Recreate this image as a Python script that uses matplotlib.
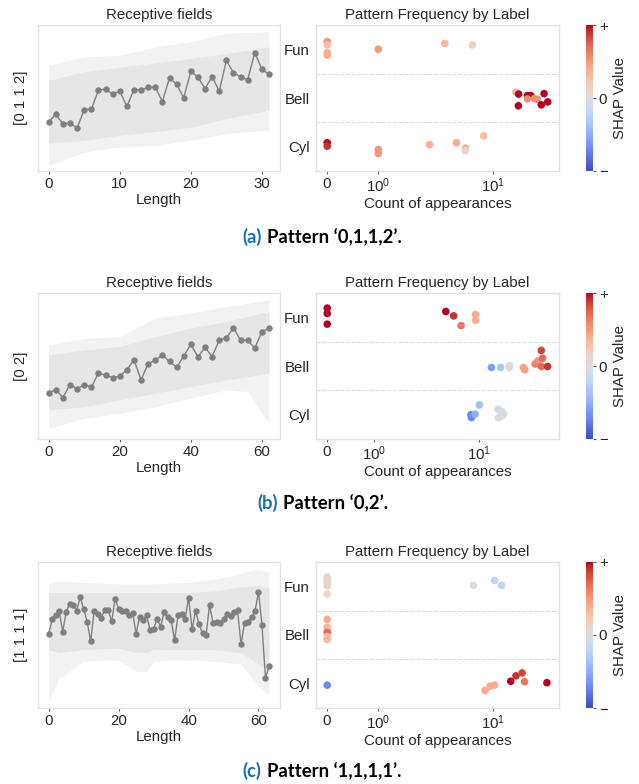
import numpy as np
import matplotlib
matplotlib.use("Agg")
import matplotlib.pyplot as plt
from matplotlib.ticker import NullLocator
from matplotlib.cm import ScalarMappable
from matplotlib.colors import Normalize

# ==================================================
# STYLE
# ==================================================

plt.rcParams["font.family"] = ["Liberation Sans", "DejaVu Sans"]
plt.rcParams["mathtext.default"] = "regular"
plt.rcParams["font.size"] = 10.8
plt.rcParams["axes.titlesize"] = 10.8
plt.rcParams["axes.edgecolor"] = "#e3e3e3"
plt.rcParams["axes.linewidth"] = 1.0
plt.rcParams["text.color"] = "#262626"
plt.rcParams["axes.labelcolor"] = "#262626"
plt.rcParams["xtick.color"] = "#595959"
plt.rcParams["ytick.color"] = "#595959"
plt.rcParams["xtick.labelcolor"] = "#262626"
plt.rcParams["ytick.labelcolor"] = "#262626"

LABELS = ["Fun", "Bell", "Cyl"]
BAND_OUTER = "#f2f2f2"
BAND_CORE = "#e6e6e6"
LINE_COLOR = "#7f7f7f"
TAG_COLOR = "#1570b5"

# ==================================================
# DATA  (a) pattern 0,1,1,2
# ==================================================

a_rf = [33.9, 38.7, 32.3, 32.7, 29.5, 42.1, 42.3, 55.4, 56.1, 52.6,
        54.7, 44.2, 55.8, 55.4, 57.4, 57.2, 47.6, 63.8, 59.3, 50.1,
        68.2, 64.3, 56.5, 64.5, 54.7, 75.7, 67.3, 64.5, 62.5, 81.0,
        69.8, 66.1]
a_rf_x = list(range(32))
a_band_x = [0, 5, 10, 15, 20, 25, 31]
a_outer_lo = [4, 13, 16.5, 17.6, 21, 25.6, 28]
a_outer_hi = [72.5, 78, 79.4, 85, 88.6, 94.3, 95.4]
a_core_lo = [19, 21, 24.5, 27, 30, 36, 41.6]
a_core_hi = [62, 68, 71, 74, 77, 80.5, 85]

a_count = [0, 0, 0, 0, 1, 3.8, 6.6,
           15.8, 16.7, 16.6, 19.9, 21.3, 19.9, 22.9, 24.3, 26.3, 27.8, 29.9,
           0, 0, 1, 1, 2.8, 4.8, 5.75, 5.75, 8.3]
a_label = ["Fun"] * 7 + ["Bell"] * 11 + ["Cyl"] * 9
a_jitter = [0.16, 0.09, -0.07, -0.12, 0.0, 0.12, 0.09,
            0.12, 0.08, -0.16, 0.05, 0.05, -0.02, -0.01, -0.03, -0.14, 0.09, -0.08,
            0.08, 0.01, -0.06, -0.14, 0.04, 0.08, -0.03, -0.08, 0.22]
a_shap = [0.5, 0.3, 0.4, 0.4, 0.5, 0.35, 0.15,
          0.35, 1.0, 1.0, 1.0, 1.0, 0.55, 0.55, 0.55, 1.0, 1.0, 1.0,
          1.0, 0.9, 0.5, 0.5, 0.38, 0.4, 0.4, 0.1, 0.3]

# ==================================================
# DATA  (b) pattern 0,2
# ==================================================

b_rf = [31.4, 33.9, 28.4, 37.3, 34.3, 37.3, 35.5, 45.1, 43.7, 42.1,
        43.0, 47.4, 54.2, 40.5, 51.7, 53.8, 57.7, 53.1, 49.0, 56.8,
        64.8, 56.3, 62.7, 56.5, 67.7, 69.1, 76.2, 67.7, 67.7, 62.2,
        73.5, 75.7]
b_rf_x = list(range(0, 64, 2))
b_band_x = [0, 10, 20, 30, 40, 50, 56, 62]
b_outer_lo = [7.3, 14, 17.6, 22, 28, 33.6, 32.5, 10.8]
b_outer_hi = [64.5, 69, 70, 82.8, 86.3, 90.8, 93, 95.4]
b_core_lo = [20, 22, 26.8, 31.4, 36, 40.5, 42.8, 45]
b_core_hi = [57.7, 61, 63.4, 70, 76, 80.5, 84, 87.4]

b_count = [0, 0, 0, 4.8, 5.7, 6.7, 9.2, 9.2,
           13.0, 15.9, 19.2, 19.2, 26.2, 27.0, 33.8, 35.8, 38.7, 39.8, 38.7, 44.4,
           10.0, 8.3, 8.4, 9.1, 15.1, 16.4, 16.4, 15.2, 16.9]
b_label = ["Fun"] * 8 + ["Bell"] * 12 + ["Cyl"] * 9
b_jitter = [0.19, 0.08, -0.14, 0.12, 0.03, -0.17, 0.06, -0.06,
            -0.03, -0.03, 0.01, -0.03, -0.03, -0.08, 0.04, 0.10, 0.32, 0.16, -0.01, -0.01,
            0.20, 0.0, -0.06, 0.01, 0.11, 0.06, -0.02, -0.06, 0.01]
b_shap = [1.0, 1.0, 1.0, 1.0, 0.9, 0.65, 0.4, 0.4,
          -0.6, -0.35, 0.0, 0.05, 0.45, 0.45, 0.6, 0.55, 0.85, 0.7, 0.7, 0.9,
          -0.4, -0.7, -0.7, -0.5, -0.1, -0.05, 0.0, -0.05, 0.0]

# ==================================================
# DATA  (c) pattern 1,1,1,1
# ==================================================

c_rf = [50.9, 61.0, 63.7, 66.7, 52.1, 66.0, 71.5, 70.5, 66.7, 76.0,
        67.8, 59.1, 45.7, 66.7, 64.6, 61.9, 66.9, 67.1, 59.4, 74.9,
        68.0, 66.7, 66.2, 63.9, 65.3, 50.9, 62.6, 60.0, 63.5, 53.2,
        54.3, 61.0, 55.7, 65.5, 62.3, 60.3, 46.3, 63.7, 64.2, 60.7,
        75.6, 53.9, 66.4, 57.3, 51.1, 49.8, 70.5, 58.2, 58.9, 58.0,
        61.0, 64.6, 62.8, 65.8, 66.9, 43.6, 58.2, 59.1, 62.3, 66.2,
        79.7, 56.6, 20.3, 28.8]
c_rf_x = list(range(64))
c_band_x = [0, 3, 10, 20, 25, 28, 30, 40, 47, 55, 60, 63]
c_outer_lo = [5, 20, 32, 33, 25, 25, 32, 33, 32, 30, 15, 9]
c_outer_hi = [85, 87, 86, 85, 85, 85, 85, 86, 88, 92, 95, 93]
c_core_lo = [40, 38, 40, 41, 38, 38, 40, 40, 40, 38, 30, 25]
c_core_hi = [79, 79, 79, 79, 79, 79, 79, 79, 80, 83, 84, 82]

c_count = [0, 0, 0, 0, 0, 6.8, 10.4, 12.0,
           0, 0, 0, 0, 0, 0,
           0, 8.6, 9.5, 10.4, 14.4, 16.0, 18.1, 19.0, 29.8]
c_label = ["Fun"] * 8 + ["Bell"] * 6 + ["Cyl"] * 9
c_jitter = [0.19, 0.12, 0.07, 0.01, -0.16, 0.02, 0.12, 0.02,
            0.32, 0.16, 0.11, 0.05, -0.03, -0.09,
            -0.03, -0.14, -0.05, -0.03, 0.05, 0.16, 0.22, 0.04, 0.02]
c_shap = [0.1, 0.12, 0.1, 0.12, 0.08, 0.0, -0.2, -0.2,
          0.4, 0.35, 0.35, 0.7, 0.3, 0.35,
          -0.7, 0.4, 0.4, 0.4, 1.0, 0.9, 0.85, 0.65, 1.0]

# ==================================================
# LAYOUT (figure fractions)
# ==================================================

W, H = 639, 784
ROW_BOTTOMS = [1 - 171 / H, 1 - 439 / H, 1 - 708 / H]
ROW_H = 146 / H
LEFT_AX = (37.7 / W, 242.3 / W)
RIGHT_AX = (316 / W, 243 / W)
CBAR_AX = (585.7 / W, 7.6 / W)

fig = plt.figure(figsize=(W / 100, H / 100), dpi=100)
cmap = plt.get_cmap("coolwarm")
norm = Normalize(-1, 1)


def draw_row(bottom, rf_x, rf, band_x, outer_lo, outer_hi, core_lo, core_hi,
             ylab, count, label, jitter, shap, xlim,
             tag, caption, cap_base, tag_right, cap_left):

    # receptive field panel
    ax = fig.add_axes([LEFT_AX[0], bottom, LEFT_AX[1], ROW_H])
    ax.fill_between(band_x, outer_lo, outer_hi, color=BAND_OUTER, lw=0)
    ax.fill_between(band_x, core_lo, core_hi, color=BAND_CORE, lw=0)
    ax.plot(rf_x, rf, color=LINE_COLOR, lw=1.0, marker="o", ms=3.6)
    ax.set_ylim(0, 100)
    ax.set_yticks([])
    ax.set_title("Receptive fields", pad=4)
    ax.set_xlabel("Length", labelpad=1.5)
    ax.set_ylabel(ylab, labelpad=7)
    ax.tick_params(axis="x", length=2, width=0.8, pad=2)

    # frequency scatter
    ax2 = fig.add_axes([RIGHT_AX[0], bottom, RIGHT_AX[1], ROW_H])
    ypos = [LABELS.index(l) - j for l, j in zip(label, jitter)]
    ax2.axhline(0.5, ls="--", color="#dcdcdc", lw=0.8, zorder=1)
    ax2.axhline(1.5, ls="--", color="#dcdcdc", lw=0.8, zorder=1)
    ax2.scatter(count, ypos, c=shap, cmap=cmap, norm=norm, s=30,
                linewidths=0, zorder=3)
    ax2.set_xscale("symlog", linthresh=1, linscale=0.4)
    ax2.xaxis.set_minor_locator(NullLocator())
    ax2.set_xlim(*xlim)
    ax2.set_ylim(2.5, -0.5)
    ax2.set_yticks(range(3))
    ax2.set_yticklabels(LABELS)
    ax2.tick_params(axis="y", length=0, pad=4.5)
    ax2.tick_params(axis="x", length=2, width=0.8, pad=2)
    ax2.set_title("Pattern Frequency by Label", pad=4)
    ax2.set_xlabel("Count of appearances", labelpad=1.5)

    # colorbar
    cax = fig.add_axes([CBAR_AX[0], bottom, CBAR_AX[1], ROW_H])
    cb = fig.colorbar(ScalarMappable(norm=norm, cmap=cmap), cax=cax)
    cb.set_ticks([-1, 0, 1])
    cb.set_ticklabels(["\u2212", "0", "+"])
    cb.outline.set_visible(False)
    cax.tick_params(length=2, width=0.8, pad=2)
    cb.set_label("SHAP Value", labelpad=4)

    # caption
    fig.text(tag_right / W, cap_base, tag, ha="right", va="baseline",
             color=TAG_COLOR, family="Lato", weight="bold", fontsize=13.3)
    fig.text(cap_left / W, cap_base, caption, ha="left", va="baseline",
             color="black", family="Lato", weight="bold", fontsize=13.3)


draw_row(ROW_BOTTOMS[0], a_rf_x, a_rf, a_band_x, a_outer_lo, a_outer_hi,
         a_core_lo, a_core_hi, "[0 1 1 2]", a_count, a_label, a_jitter, a_shap,
         (-0.22, 37.5), "(a)", "Pattern \u20180,1,1,2\u2019.",
         1 - 243.3 / H, 262, 267)

draw_row(ROW_BOTTOMS[1], b_rf_x, b_rf, b_band_x, b_outer_lo, b_outer_hi,
         b_core_lo, b_core_hi, "[0 2]", b_count, b_label, b_jitter, b_shap,
         (-0.24, 57), "(b)", "Pattern \u20180,2\u2019.",
         1 - 509.3 / H, 278, 283)

draw_row(ROW_BOTTOMS[2], c_rf_x, c_rf, c_band_x, c_outer_lo, c_outer_hi,
         c_core_lo, c_core_hi, "[1 1 1 1]", c_count, c_label, c_jitter, c_shap,
         (-0.22, 38), "(c)", "Pattern \u20181,1,1,1\u2019.",
         1 - 777.3 / H, 261.5, 267)

fig.savefig("out.png", dpi=100)
